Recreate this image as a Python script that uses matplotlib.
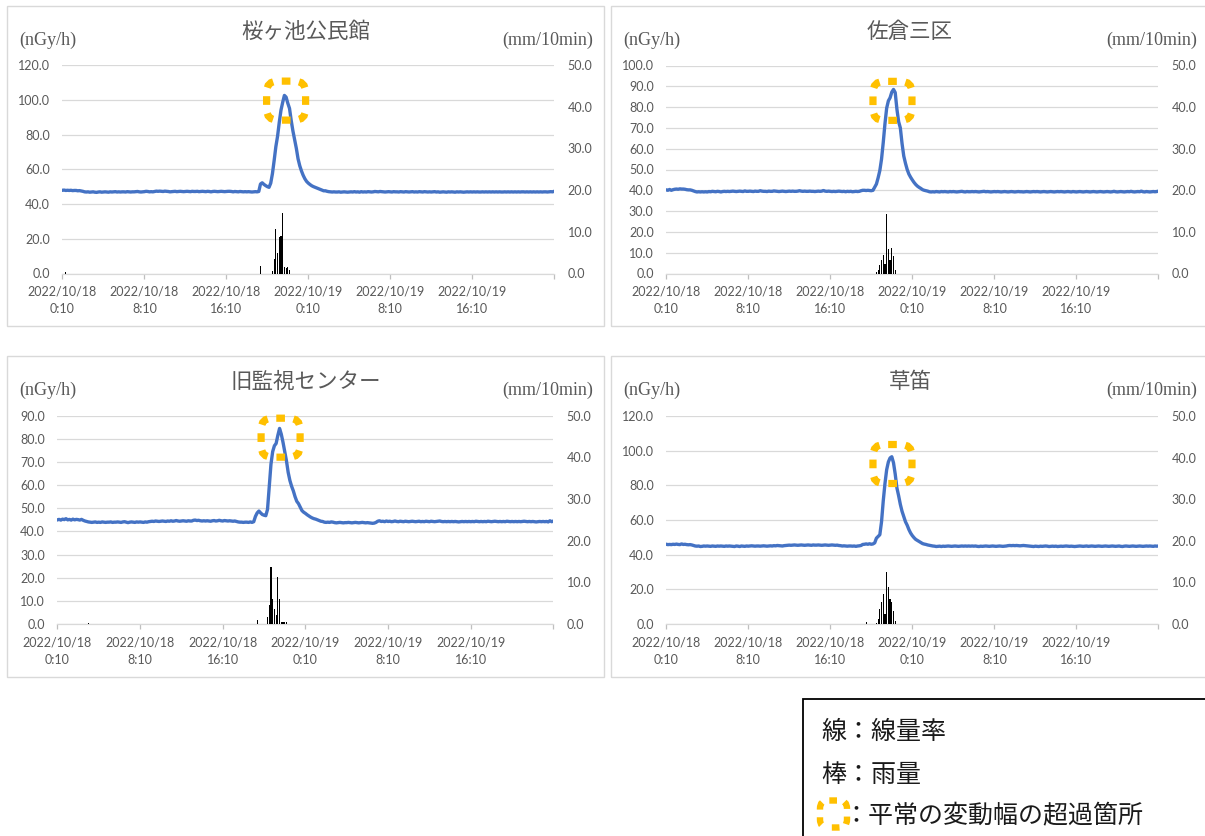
import numpy as np
import matplotlib
matplotlib.use("Agg")
import matplotlib.pyplot as plt
from matplotlib.patches import FancyBboxPatch, Rectangle
from matplotlib.transforms import ScaledTranslation

# ---------------- data ----------------
titles = ["桜ヶ池公民館", "佐倉三区", "旧監視センター", "草笛"]
x_labels = ["2022/10/18\n0:10", "2022/10/18\n8:10", "2022/10/18\n16:10",
            "2022/10/19\n0:10", "2022/10/19\n8:10", "2022/10/19\n16:10", ""]
x_ticks = [0, 48, 96, 144, 192, 240, 288]

dose_sakuragaike = [
    47.9, 48.0, 47.8, 47.9, 47.8, 47.9, 47.7, 47.8, 47.8, 47.6, 47.7, 47.5,
    47.3, 47.0, 46.9, 47.0, 46.8, 46.9, 47.0, 46.8, 46.7, 46.9, 47.0, 46.8,
    46.9, 47.0, 46.9, 46.8, 47.0, 46.9, 47.0, 47.1, 46.9, 47.0, 46.9, 47.0,
    47.0, 46.9, 47.1, 47.0, 46.9, 47.0, 47.0, 47.1, 47.2, 47.0, 46.9, 47.0,
    47.1, 47.3, 47.2, 47.0, 47.1, 47.0, 47.2, 47.4, 47.3, 47.4, 47.3, 47.2,
    47.4, 47.3, 47.2, 47.0, 47.1, 47.2, 47.3, 47.1, 47.2, 47.3, 47.2, 47.1,
    47.2, 47.3, 47.2, 47.1, 47.3, 47.2, 47.2, 47.3, 47.1, 47.2, 47.3, 47.2,
    47.1, 47.3, 47.2, 47.0, 47.2, 47.3, 47.2, 47.1, 47.2, 47.3, 47.2, 47.1,
    47.2, 47.3, 47.3, 47.2, 47.0, 47.2, 47.1, 47.0, 47.2, 47.1, 47.0, 47.1,
    47.0, 47.1, 47.0, 46.9, 47.0, 47.1, 47.0, 47.2, 51.5, 52.2, 51.3, 50.6,
    50.0, 49.6, 52.0, 57.5, 65.0, 73.0, 79.0, 87.0, 94.0, 98.5, 102.5, 101.5,
    98.0, 95.0, 88.0, 82.0, 77.0, 72.0, 66.0, 62.0, 59.0, 56.5, 54.5, 53.0,
    52.0, 51.2, 50.5, 50.0, 49.6, 49.2, 48.8, 48.4, 48.0, 47.6, 47.6, 47.3,
    47.1, 47.0, 46.9, 47.0, 46.9, 46.9, 47.0, 46.8, 46.9, 47.0, 46.9, 46.8,
    46.9, 47.0, 46.9, 47.1, 46.9, 47.0, 46.8, 47.1, 46.9, 47.0, 46.9, 47.1,
    47.0, 46.9, 47.0, 47.2, 47.1, 47.0, 47.2, 47.1, 47.0, 46.9, 47.0, 47.1,
    47.0, 46.9, 47.1, 47.0, 47.0, 46.9, 47.1, 47.0, 46.9, 47.1, 47.0, 46.9,
    47.0, 47.1, 46.9, 47.0, 46.9, 47.1, 47.0, 46.9, 47.1, 47.0, 46.9, 47.0,
    46.9, 47.0, 47.1, 46.9, 47.0, 46.8, 46.9, 47.0, 46.9, 46.8, 47.0, 46.9,
    47.0, 46.9, 46.8, 47.0, 46.9, 47.0, 46.9, 46.8, 46.9, 47.0, 46.9, 47.0,
    46.9, 47.0, 46.9, 47.0, 46.9, 46.9, 47.0, 46.9, 47.0, 46.9, 47.0, 46.9,
    47.0, 46.9, 47.0, 46.9, 47.0, 46.9, 46.9, 47.0, 46.9, 47.0, 46.9, 47.0,
    46.9, 47.0, 46.9, 47.0, 46.9, 47.0, 47.0, 46.9, 47.0, 46.9, 47.0, 46.9,
    47.0, 46.9, 47.0, 46.9, 47.0, 46.9, 47.0, 47.0, 46.9, 47.0, 47.1, 47.0,
    47.3]

dose_sakura3 = [
    40.2, 40.0, 40.4, 40.0, 40.3, 40.5, 40.6, 40.5, 40.7, 40.6, 40.6, 40.5,
    40.3, 40.2, 40.2, 40.0, 39.7, 39.4, 39.2, 39.3, 39.2, 39.3, 39.2, 39.3,
    39.2, 39.4, 39.3, 39.5, 39.4, 39.3, 39.5, 39.4, 39.2, 39.4, 39.5, 39.4,
    39.5, 39.4, 39.5, 39.6, 39.5, 39.4, 39.5, 39.6, 39.5, 39.4, 39.7, 39.5,
    39.5, 39.6, 39.5, 39.4, 39.6, 39.5, 39.5, 39.8, 39.6, 39.5, 39.5, 39.4,
    39.6, 39.5, 39.5, 39.7, 39.6, 39.5, 39.4, 39.5, 39.6, 39.5, 39.4, 39.5,
    39.6, 39.5, 39.6, 39.5, 39.5, 39.6, 39.8, 39.6, 39.5, 39.6, 39.5, 39.5,
    39.6, 39.5, 39.5, 39.4, 39.5, 39.6, 39.5, 39.6, 39.9, 39.6, 39.5, 39.6,
    39.5, 39.4, 39.5, 39.4, 39.5, 39.6, 39.5, 39.4, 39.5, 39.3, 39.5, 39.4,
    39.5, 39.3, 39.4, 39.5, 39.4, 39.5, 39.8, 40.0, 40.0, 39.9, 40.0, 39.9,
    39.8, 40.0, 41.5, 43.0, 46.0, 49.5, 55.0, 63.0, 72.0, 79.5, 83.0, 84.5,
    87.2, 88.5, 87.0, 79.0, 73.0, 70.0, 62.5, 56.5, 53.0, 50.0, 47.8, 46.3,
    45.0, 43.8, 42.8, 42.0, 41.4, 40.9, 40.3, 40.0, 39.8, 39.6, 39.3, 39.2,
    39.3, 39.2, 39.4, 39.3, 39.2, 39.4, 39.3, 39.4, 39.3, 39.2, 39.4, 39.3,
    39.4, 39.3, 39.2, 39.3, 39.4, 39.5, 39.3, 39.2, 39.4, 39.3, 39.3, 39.4,
    39.3, 39.4, 39.3, 39.2, 39.3, 39.4, 39.5, 39.3, 39.4, 39.3, 39.2, 39.3,
    39.4, 39.3, 39.4, 39.3, 39.2, 39.3, 39.4, 39.3, 39.2, 39.3, 39.4, 39.3,
    39.2, 39.3, 39.4, 39.3, 39.3, 39.2, 39.3, 39.4, 39.3, 39.2, 39.3, 39.4,
    39.3, 39.4, 39.3, 39.2, 39.3, 39.4, 39.3, 39.2, 39.3, 39.4, 39.3, 39.2,
    39.3, 39.4, 39.3, 39.4, 39.3, 39.2, 39.3, 39.4, 39.3, 39.2, 39.4, 39.3,
    39.2, 39.3, 39.4, 39.3, 39.2, 39.3, 39.4, 39.3, 39.2, 39.3, 39.4, 39.3,
    39.2, 39.3, 39.4, 39.3, 39.2, 39.3, 39.4, 39.3, 39.2, 39.3, 39.5, 39.3,
    39.2, 39.3, 39.4, 39.3, 39.2, 39.3, 39.4, 39.3, 39.5, 39.3, 39.2, 39.3,
    39.4, 39.3, 39.6, 39.3, 39.2, 39.4, 39.3, 39.2, 39.3, 39.4, 39.3, 39.4,
    39.6]

dose_kyukanshi = [
    45.0, 45.2, 44.9, 45.3, 45.1, 45.5, 45.0, 45.2, 44.9, 45.3, 45.0, 45.2,
    45.1, 44.9, 45.2, 44.8, 44.5, 44.3, 44.1, 44.0, 43.9, 44.0, 44.1, 43.9,
    44.0, 43.9, 44.1, 44.0, 43.9, 44.0, 44.0, 44.1, 43.9, 44.0, 44.0, 44.1,
    44.0, 43.9, 44.1, 44.2, 44.0, 43.8, 44.0, 44.1, 44.0, 43.9, 44.1, 44.0,
    44.1, 44.0, 43.9, 44.1, 44.0, 44.2, 44.3, 44.4, 44.3, 44.5, 44.4, 44.3,
    44.4, 44.5, 44.4, 44.3, 44.5, 44.4, 44.6, 44.4, 44.5, 44.7, 44.5, 44.4,
    44.5, 44.6, 44.5, 44.4, 44.6, 44.5, 44.5, 44.8, 44.9, 44.7, 44.8, 44.6,
    44.5, 44.6, 44.5, 44.6, 44.5, 44.4, 44.6, 44.7, 44.5, 44.6, 44.8, 44.6,
    44.5, 44.7, 44.6, 44.5, 44.6, 44.5, 44.4, 44.5, 44.3, 44.1, 44.0, 44.0,
    43.9, 44.0, 44.0, 43.9, 44.1, 43.9, 44.2, 46.5, 48.0, 48.8, 48.0, 47.3,
    47.0, 46.8, 49.5, 59.0, 69.0, 74.5, 77.0, 78.0, 81.5, 84.5, 82.0, 78.5,
    74.5, 70.5, 65.5, 62.0, 59.5, 57.5, 55.0, 53.0, 52.0, 50.5, 49.0, 48.3,
    47.8, 47.2, 46.7, 46.2, 45.8, 45.5, 45.3, 45.0, 44.7, 44.4, 44.3, 44.0,
    43.9, 44.0, 43.9, 44.1, 44.0, 43.8, 43.7, 43.8, 43.9, 43.8, 43.7, 43.8,
    43.8, 43.9, 43.8, 43.7, 43.8, 43.9, 43.8, 43.7, 43.8, 43.9, 43.8, 43.7,
    43.8, 43.7, 43.6, 43.5, 43.6, 43.9, 44.4, 44.6, 44.3, 44.4, 44.2, 44.5,
    44.3, 44.4, 44.2, 44.3, 44.5, 44.3, 44.2, 44.4, 44.3, 44.2, 44.4, 44.3,
    44.2, 44.3, 44.4, 44.3, 44.2, 44.3, 44.4, 44.2, 44.3, 44.2, 44.4, 44.3,
    44.2, 44.4, 44.3, 44.2, 44.3, 44.4, 44.5, 44.3, 44.2, 44.3, 44.2, 44.3,
    44.2, 44.3, 44.2, 44.3, 44.2, 44.1, 44.2, 44.3, 44.2, 44.3, 44.2, 44.3,
    44.2, 44.3, 44.2, 44.4, 44.3, 44.2, 44.3, 44.2, 44.3, 44.2, 44.4, 44.3,
    44.2, 44.3, 44.4, 44.3, 44.2, 44.3, 44.2, 44.3, 44.2, 44.4, 44.3, 44.2,
    44.3, 44.2, 44.3, 44.2, 44.3, 44.2, 44.3, 44.4, 44.3, 44.2, 44.3, 44.2,
    44.3, 44.2, 44.1, 44.2, 44.3, 44.2, 44.3, 44.2, 44.3, 44.1, 44.6, 44.2,
    44.5]

dose_kusabue = [
    46.0, 45.8, 45.9, 45.8, 46.0, 45.9, 46.1, 45.9, 45.8, 46.2, 45.9, 46.0,
    45.8, 45.7, 45.8, 45.6, 45.3, 45.0, 44.9, 45.0, 44.7, 44.8, 45.0, 44.9,
    45.0, 44.9, 44.8, 45.0, 44.9, 44.8, 45.0, 44.9, 45.0, 44.9, 44.8, 45.0,
    44.9, 45.0, 44.9, 44.8, 44.7, 45.0, 44.9, 44.7, 45.0, 44.9, 44.8, 45.0,
    44.9, 45.0, 45.1, 45.0, 44.9, 45.0, 45.0, 44.9, 45.0, 45.1, 45.0, 44.9,
    45.0, 45.1, 45.0, 45.2, 45.1, 45.3, 45.2, 45.1, 45.0, 45.2, 45.3, 45.4,
    45.5, 45.4, 45.5, 45.6, 45.5, 45.4, 45.5, 45.6, 45.5, 45.4, 45.5, 45.6,
    45.5, 45.4, 45.6, 45.5, 45.5, 45.6, 45.5, 45.4, 45.5, 45.6, 45.5, 45.4,
    45.5, 45.6, 45.5, 45.4, 45.5, 45.3, 45.2, 45.0, 45.1, 45.0, 44.9, 45.0,
    45.0, 44.9, 45.0, 44.8, 45.0, 45.1, 45.3, 45.9, 46.0, 46.2, 46.0, 46.3,
    46.0, 46.2, 46.8, 49.5, 50.5, 51.5, 59.0, 71.0, 81.0, 89.0, 93.5, 95.8,
    96.5, 93.0, 86.5, 78.5, 74.0, 69.0, 65.0, 62.0, 59.0, 57.0, 54.5, 52.5,
    51.0, 49.8, 48.8, 48.2, 47.6, 47.0, 46.4, 46.1, 45.9, 45.6, 45.4, 45.2,
    45.0, 44.9, 44.7, 44.8, 44.9, 44.7, 44.9, 44.8, 44.9, 45.0, 44.9, 44.8,
    44.9, 45.0, 44.9, 44.8, 44.9, 45.0, 44.9, 45.0, 44.9, 45.0, 44.9, 45.0,
    44.9, 45.0, 44.8, 44.7, 44.9, 44.8, 44.9, 45.0, 44.9, 44.8, 44.9, 45.0,
    44.9, 44.8, 44.9, 45.0, 44.9, 44.8, 44.9, 45.0, 45.2, 45.3, 45.2, 45.3,
    45.2, 45.3, 45.2, 45.1, 45.2, 45.3, 45.2, 45.1, 45.0, 44.9, 44.8, 44.7,
    44.9, 44.8, 44.7, 44.9, 44.8, 44.9, 45.0, 44.9, 44.7, 44.8, 44.9, 44.8,
    44.9, 44.7, 44.8, 44.9, 44.8, 44.9, 45.0, 44.9, 44.8, 44.9, 44.8, 44.7,
    44.8, 44.9, 45.0, 44.9, 44.8, 44.9, 45.0, 44.8, 44.9, 45.0, 44.9, 44.8,
    44.9, 45.0, 44.9, 44.8, 44.9, 45.0, 44.9, 44.8, 44.9, 45.0, 44.9, 44.8,
    44.9, 45.0, 44.8, 44.7, 44.9, 45.0, 44.9, 44.8, 44.9, 45.0, 44.9, 44.8,
    44.9, 45.0, 44.9, 44.8, 44.9, 45.0, 44.9, 45.0, 44.9, 44.8, 45.0, 44.9,
    45.0]

# rain (mm/10min): index of 10-min step and value (all other steps are 0)
rain_idx_sakuragaike = [2, 116, 123, 124, 125, 126, 127, 128, 129, 130, 131, 132, 133]
rain_val_sakuragaike = [0.3, 1.8, 0.7, 3.5, 10.7, 4.9, 8.7, 9.0, 14.4, 1.5, 1.2, 1.5, 0.9]
rain_idx_sakura3 = [123, 124, 125, 126, 127, 128, 129, 130, 131, 132, 133, 134]
rain_val_sakura3 = [0.4, 0.8, 2.1, 3.2, 4.4, 2.4, 14.3, 6.0, 3.2, 6.2, 4.2, 0.8]
rain_idx_kyukanshi = [18, 116, 122, 123, 124, 125, 126, 127, 128, 129, 130, 131, 132, 133]
rain_val_kyukanshi = [0.3, 1.0, 1.6, 4.6, 13.8, 5.9, 3.5, 2.2, 11.2, 5.9, 0.6, 0.5, 0.4, 0.4]
rain_idx_kusabue = [117, 123, 124, 125, 126, 127, 128, 129, 130, 131, 132, 133, 134]
rain_val_kusabue = [0.5, 0.3, 1.1, 3.5, 5.3, 7.2, 2.5, 12.5, 8.9, 6.1, 5.3, 3.1, 0.8]

left_max = [120, 100, 90, 120]
left_step = [20, 10, 10, 20]
# centre of the dashed "exceedance" marker (step index, nGy/h)
mark_x = [131.0, 132.4, 129.6, 132.4]
mark_y = [99.5, 83.0, 80.5, 92.3]

legend_lines = ["線：線量率", "棒：雨量", "：平常の変動幅の超過箇所"]

# ---------------- layout ----------------
W, H = 1205, 836
fig = plt.figure(figsize=(W / 100, H / 100), dpi=100)

def fr(x0, y0, x1, y1):
    return [x0 / W, 1 - y1 / H, (x1 - x0) / W, (y1 - y0) / H]

axes_px = [(62.4, 65.0, 554.2, 273.5), (666.2, 65.5, 1158.4, 273.5),
           (57.4, 415.7, 553.4, 624.0), (666.2, 416.0, 1158.4, 624.0)]
box_px = [(7, 6, 604, 326), (611, 6, 1215, 326), (7, 356, 604, 677), (611, 356, 1215, 677)]
title_px = [(306, 32), (910, 32), (306, 382), (910, 382)]

GRAY = "#595959"
GRID = "#d9d9d9"
BLUE = "#4472C4"
YEL = "#FFC000"
TICKFONT = ["Lato", "DejaVu Sans"]
CJK = ["Noto Sans CJK JP", "DejaVu Sans"]
SERIF = ["Liberation Serif", "DejaVu Serif"]

doses = [dose_sakuragaike, dose_sakura3, dose_kyukanshi, dose_kusabue]
rain_idx = [rain_idx_sakuragaike, rain_idx_sakura3, rain_idx_kyukanshi, rain_idx_kusabue]
rain_val = [rain_val_sakuragaike, rain_val_sakura3, rain_val_kyukanshi, rain_val_kusabue]

for k in range(4):
    bx0, by0, bx1, by1 = box_px[k]
    fig.add_artist(Rectangle((bx0 / W, 1 - by1 / H), (bx1 - bx0) / W, (by1 - by0) / H,
                             transform=fig.transFigure, fill=False,
                             edgecolor=GRID, lw=1.0, zorder=0))
    ax = fig.add_axes(fr(*axes_px[k]))
    ax2 = ax.twinx()
    x = np.arange(len(doses[k]))
    ax.plot(x, doses[k], color=BLUE, lw=2.4, solid_joinstyle="round", zorder=3)
    ax2.bar(rain_idx[k], rain_val[k], width=0.7, color="black", linewidth=0)

    ax.set_xlim(0, 288)
    ax.set_ylim(0, left_max[k])
    ax2.set_ylim(0, 50)
    ax.set_yticks(np.arange(0, left_max[k] + 0.1, left_step[k]))
    ax.set_yticklabels([f"{v:.1f}" for v in np.arange(0, left_max[k] + 0.1, left_step[k])])
    ax2.set_yticks(np.arange(0, 50.1, 10))
    ax2.set_yticklabels([f"{v:.1f}" for v in np.arange(0, 50.1, 10)])
    ax.set_xticks(x_ticks)
    ax.set_xticklabels(x_labels)

    ax.set_axisbelow(True)
    ax.grid(axis="y", color=GRID, lw=0.9)
    for s in ["top", "left", "right"]:
        ax.spines[s].set_visible(False)
        ax2.spines[s].set_visible(False)
    ax2.spines["bottom"].set_visible(False)
    ax.spines["bottom"].set_color(GRID)
    ax.spines["bottom"].set_linewidth(0.9)
    ax.patch.set_alpha(0)

    ax.tick_params(axis="y", length=0, pad=9.0, labelsize=9, labelcolor=GRAY)
    ax2.tick_params(axis="y", length=0, pad=9.6, labelsize=9, labelcolor=GRAY)
    ax.tick_params(axis="x", length=3.5, width=0.9, color="#bfbfbf", pad=5.5,
                   labelsize=9, labelcolor=GRAY)
    for lbl in ax.get_xticklabels() + ax.get_yticklabels() + ax2.get_yticklabels():
        lbl.set_fontfamily(TICKFONT)
    for lbl in ax.get_xticklabels():
        lbl.set_linespacing(1.5)

    # titles and units
    tx, ty = title_px[k]
    fig.text(tx / W, 1 - ty / H, titles[k], ha="center", va="center",
             fontsize=15.5, color=GRAY, family=CJK)
    fig.text((bx0 + 12) / W, 1 - (by0 + 34) / H, "(nGy/h)", ha="left", va="center",
             fontsize=13, color=GRAY, family=SERIF)
    fig.text((bx0 + 586) / W, 1 - (by0 + 34) / H, "(mm/10min)", ha="right", va="center",
             fontsize=13, color=GRAY, family=SERIF)

    # dashed exceedance marker (rounded square, in inches around a data point)
    s, r = 0.39, 0.11
    trans = fig.dpi_scale_trans + ScaledTranslation(mark_x[k], mark_y[k], ax.transData)
    box = FancyBboxPatch((-s / 2, -s / 2), s, s,
                         boxstyle=f"round,pad=0,rounding_size={r}",
                         transform=trans, fill=False, edgecolor=YEL, lw=5.2,
                         linestyle=(1.8, (1.2, 1.2)), clip_on=False, zorder=10)
    fig.add_artist(box)

# ---------------- legend box ----------------
fig.add_artist(Rectangle((803 / W, 1 - 845 / H), 420 / W, 146 / H,
                         transform=fig.transFigure, fill=False,
                         edgecolor="black", lw=1.3, zorder=5))
fig.text(821 / W, 1 - 731.7 / H, legend_lines[0], ha="left", va="center",
         fontsize=18, color="#1a1a1a", family=CJK)
fig.text(821 / W, 1 - 775 / H, legend_lines[1], ha="left", va="center",
         fontsize=18, color="#1a1a1a", family=CJK)
fig.text(843 / W, 1 - 816.7 / H, legend_lines[2], ha="left", va="center",
         fontsize=18, color="#1a1a1a", family=CJK)
s2, r2 = 0.27, 0.08
legend_mark = FancyBboxPatch((833.5 / 100 - s2 / 2, (H - 814) / 100 - s2 / 2), s2, s2,
                             boxstyle=f"round,pad=0,rounding_size={r2}",
                             transform=fig.dpi_scale_trans, fill=False, edgecolor=YEL,
                             lw=4.6, linestyle=(1.8, (1.2, 1.2)), zorder=10)
fig.add_artist(legend_mark)

fig.savefig("out.png", dpi=100, facecolor="white")
